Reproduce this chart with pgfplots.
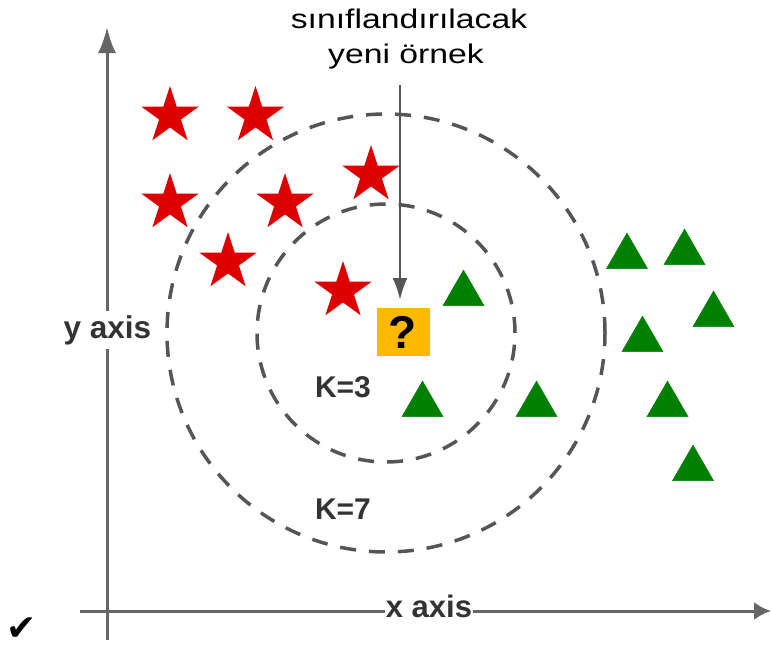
\documentclass[border=0pt]{standalone}
\usepackage{pgfplots}
\pgfplotsset{compat=1.18}
\usetikzlibrary{arrows.meta}
\usepackage{fontspec}
\setmainfont{Liberation Sans}
\newfontfamily\titlefont{Liberation Sans}[FakeStretch=1.25]
\newfontfamily\symfont{DejaVu Sans}

\definecolor{starred}{RGB}{221,0,0}
\definecolor{trigreen}{RGB}{0,128,0}
\definecolor{qbox}{RGB}{255,185,0}
\definecolor{axgray}{RGB}{102,102,102}
\definecolor{dashgray}{RGB}{85,85,85}
\definecolor{labgray}{RGB}{51,51,51}

% filled five-pointed star
\pgfdeclareplotmark{fstar}{%
  \pgfpathmoveto{\pgfpointpolar{90}{\pgfplotmarksize}}%
  \pgfpathlineto{\pgfpointpolar{126}{0.382\pgfplotmarksize}}%
  \pgfpathlineto{\pgfpointpolar{162}{\pgfplotmarksize}}%
  \pgfpathlineto{\pgfpointpolar{198}{0.382\pgfplotmarksize}}%
  \pgfpathlineto{\pgfpointpolar{234}{\pgfplotmarksize}}%
  \pgfpathlineto{\pgfpointpolar{270}{0.382\pgfplotmarksize}}%
  \pgfpathlineto{\pgfpointpolar{306}{\pgfplotmarksize}}%
  \pgfpathlineto{\pgfpointpolar{342}{0.382\pgfplotmarksize}}%
  \pgfpathlineto{\pgfpointpolar{18}{\pgfplotmarksize}}%
  \pgfpathlineto{\pgfpointpolar{54}{0.382\pgfplotmarksize}}%
  \pgfpathclose
  \pgfusepathqfill}

% rectangular box for the unknown sample
\pgfdeclareplotmark{qrect}{%
  \pgfpathrectangle{\pgfpoint{-26.5pt}{-24pt}}{\pgfpoint{53pt}{48pt}}%
  \pgfusepathqfill}

\begin{document}
\begin{tikzpicture}
\begin{axis}[
  scale only axis, width=771pt, height=648pt,
  xmin=0, xmax=771, ymin=0, ymax=648,
  y dir=reverse, hide axis, clip=false,
]
% coordinate axes
\draw[axgray, line width=3pt, -{Latex[length=26pt,width=18pt]}]
  (axis cs:107,640) -- (axis cs:107,27);
\draw[axgray, line width=3pt, -{Latex[length=17pt,width=18pt]}]
  (axis cs:80,611) -- (axis cs:771,611);

% neighbourhoods for K=3 and K=7
\draw[dashgray, line width=3.5pt, dash pattern=on 16pt off 13pt]
  (axis cs:386,333) circle[radius=129pt];
\draw[dashgray, line width=3.5pt, dash pattern=on 16pt off 13pt]
  (axis cs:386,333) circle[radius=219pt];

% class A
\addplot[only marks, mark=fstar, mark size=30pt, starred] coordinates {
  (170,116) (255.5,116) (371,175) (170,203) (285,203) (228,262) (343,291)
};
% class B
\addplot[only marks, mark=triangle*, mark size=23.7pt, trigreen,
  mark options={draw=none}] coordinates {
  (627,256.7) (684.5,252.7) (713.5,314.7) (642.5,339.7) (667.5,404.7)
  (693,468.7) (463.5,293.7) (422.5,404.7) (536.5,404.7)
};
% new sample
\addplot[only marks, mark=qrect, qbox,
  nodes near coords={\fontsize{46}{46}\selectfont\bfseries ?},
  nodes near coords style={anchor=center, text=black, yshift=0pt}]
  coordinates {(403,332)};

% pointer to the new sample
\draw[dashgray, line width=2.5pt, -{Latex[length=22pt,width=15pt]}]
  (axis cs:400,85) -- (axis cs:400,300);

% captions
\node[anchor=base] at (axis cs:409,28)
  {\titlefont\fontsize{27}{30}\selectfont s\i n\i flandır\i lacak};
\node[anchor=base] at (axis cs:406,63)
  {\titlefont\fontsize{27}{30}\selectfont yeni örnek};
\node[anchor=base, fill=white, inner xsep=1pt, inner ysep=4pt, text=labgray]
  at (axis cs:107.5,338) {\fontsize{31.5}{31.5}\selectfont\bfseries y axis};
\node[anchor=base, fill=white, inner xsep=1pt, inner ysep=1pt, text=labgray]
  at (axis cs:429,617) {\fontsize{31}{31}\selectfont\bfseries x axis};
\node[anchor=base, text=labgray] at (axis cs:343,397)
  {\fontsize{30}{30}\selectfont\bfseries K=3};
\node[anchor=base, text=labgray] at (axis cs:343,519)
  {\fontsize{30}{30}\selectfont\bfseries K=7};
\node[anchor=center] at (axis cs:22,629)
  {\symfont\fontsize{36}{36}\selectfont ✔};
\end{axis}
\pgfresetboundingbox
\path[use as bounding box] (0,0) rectangle (771pt,648pt);
\end{tikzpicture}
\end{document}
